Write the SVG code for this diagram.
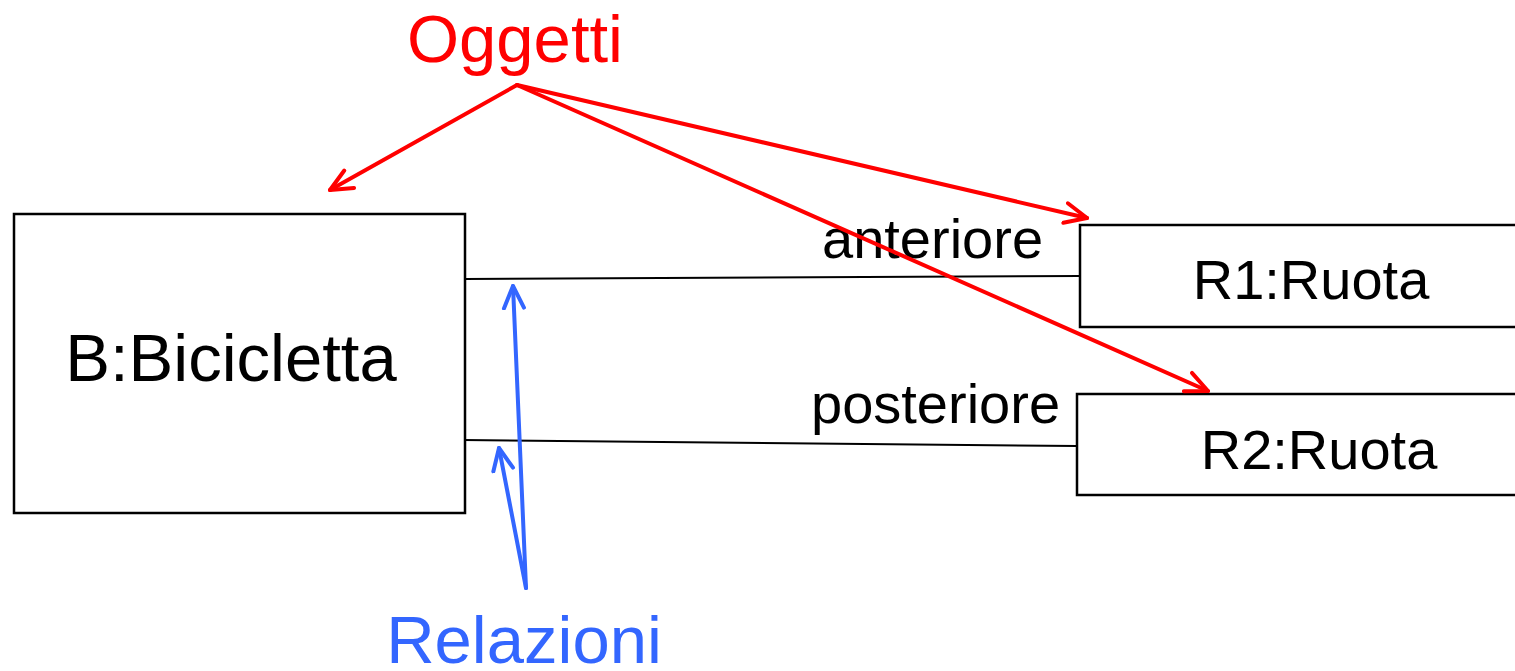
<svg xmlns="http://www.w3.org/2000/svg" width="1515" height="671" viewBox="0 0 1515 671">
<style>
.box{fill:#fff;stroke:#000;stroke-width:2.5}
.lbl{font-family:"Liberation Sans",Arial,sans-serif;fill:#000}
.link{stroke:#000;stroke-width:2;fill:none}
.red{stroke:#f00;stroke-width:4;fill:none;stroke-linecap:round}
.blue{stroke:#3366ff;stroke-width:4;fill:none;stroke-linecap:round}
</style>
<defs>
<marker id="ar" markerUnits="userSpaceOnUse" markerWidth="32" markerHeight="32" refX="24" refY="12" orient="auto" viewBox="0 0 32 24">
<path d="M2,2 L24,12 L2,22" fill="none" stroke="#f00" stroke-width="4" stroke-linecap="round" stroke-linejoin="round"/>
</marker>
<marker id="ab" markerUnits="userSpaceOnUse" markerWidth="32" markerHeight="32" refX="24" refY="12" orient="auto" viewBox="0 0 32 24">
<path d="M2,2 L24,12 L2,22" fill="none" stroke="#3366ff" stroke-width="4" stroke-linecap="round" stroke-linejoin="round"/>
</marker>
</defs>
<rect width="1515" height="671" fill="#fff"/>
<g id="connectors">
<line class="link" x1="465" y1="279" x2="1080" y2="276"/>
<line class="link" x1="463" y1="440" x2="1077" y2="446"/>
<text class="lbl" x="822" y="258" font-size="56">anteriore</text>
<text class="lbl" x="811" y="423" font-size="56">posteriore</text>
</g>
<g id="B">
<rect class="box" x="14" y="214" width="451" height="299"/>
<text class="lbl" x="231" y="381" font-size="67" text-anchor="middle">B:Bicicletta</text>
</g>
<g id="R1">
<rect class="box" x="1080" y="225" width="440" height="102"/>
<text class="lbl" x="1311" y="299" font-size="56" text-anchor="middle">R1:Ruota</text>
</g>
<g id="R2">
<rect class="box" x="1077" y="394" width="443" height="101"/>
<text class="lbl" x="1319" y="469" font-size="56" text-anchor="middle">R2:Ruota</text>
</g>
<g id="annotations">
<text x="515" y="62" font-size="67" text-anchor="middle" font-family="Liberation Sans,Arial,sans-serif" fill="#f00">Oggetti</text>
<line class="red" x1="517" y1="85" x2="330" y2="190" marker-end="url(#ar)"/>
<line class="red" x1="517" y1="85" x2="1087" y2="218" marker-end="url(#ar)"/>
<line class="red" x1="517" y1="85" x2="1208" y2="391" marker-end="url(#ar)"/>
<line class="blue" x1="526" y1="588" x2="513" y2="286" marker-end="url(#ab)"/>
<line class="blue" x1="526" y1="588" x2="499" y2="448" marker-end="url(#ab)"/>
<text x="524" y="663" font-size="67" text-anchor="middle" font-family="Liberation Sans,Arial,sans-serif" fill="#3366ff">Relazioni</text>
</g>
</svg>
